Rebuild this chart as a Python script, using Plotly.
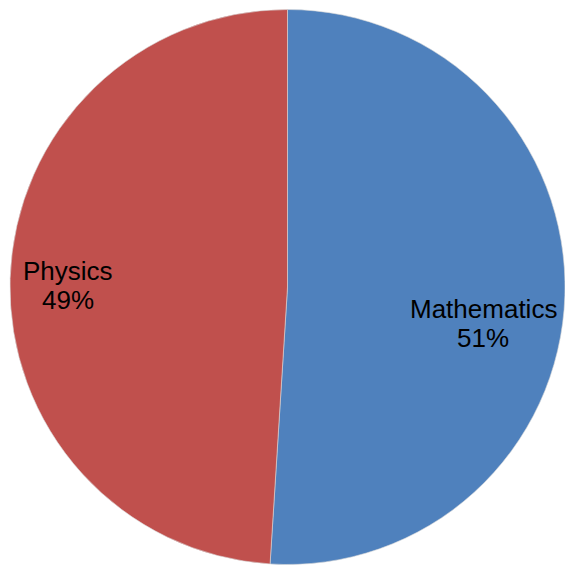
import plotly.graph_objects as go

labels = ["Mathematics", "Physics"]
values = [51, 49]
colors = ["#4F81BD", "#C0504D"]
# label block centres (paper fractions), as placed in the reference
label_x = [0.8549, 0.1195]
label_y = [0.4283, 0.4956]

W = H = 565

fig = go.Figure(go.Pie(
    labels=labels,
    values=values,
    sort=False,
    direction="clockwise",
    rotation=0,
    marker=dict(colors=colors, line=dict(color="#D9D9D9", width=0.6)),
    textinfo="none",
    showlegend=False,
    hoverinfo="label+percent",
    domain=dict(x=[10 / W, 1.0], y=[0.0, 1 - 9 / H]),
))

total = sum(values)
font = dict(family="Liberation Sans, Arial, sans-serif", size=26, color="black")
for lab, val, lx, ly in zip(labels, values, label_x, label_y):
    pct = f"{round(100 * val / total)}%"
    for txt, shift in ((lab, 14), (pct, -15)):
        fig.add_annotation(x=lx, y=ly, xref="paper", yref="paper", text=txt,
                           showarrow=False, yshift=shift, font=font,
                           xanchor="center", yanchor="middle")

fig.update_layout(
    width=W, height=H,
    margin=dict(l=0, r=0, t=0, b=0),
    paper_bgcolor="white",
    plot_bgcolor="white",
)

fig.write_html("out.html", config={"displayModeBar": False},
               post_script="document.body.style.margin='0';")
